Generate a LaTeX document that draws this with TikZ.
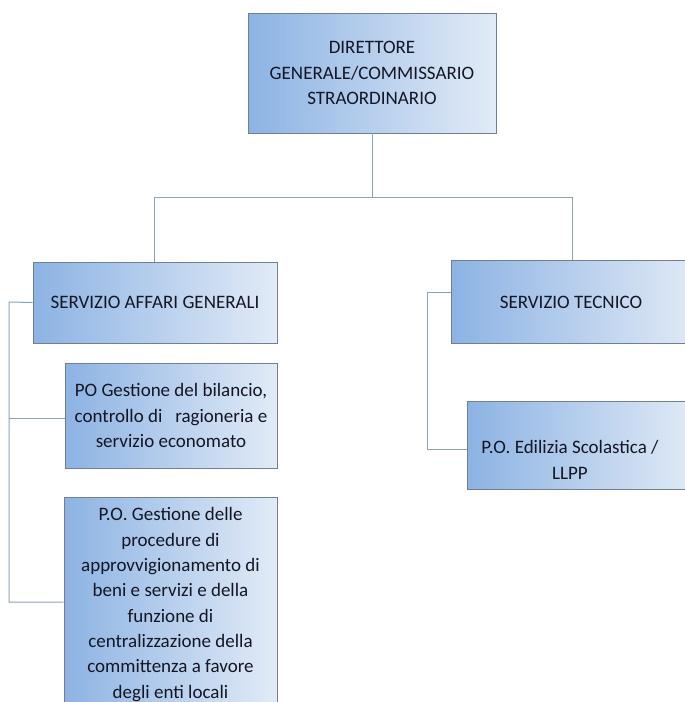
\documentclass[tikz,border=0pt]{standalone}
\usepackage{fontspec}
\setmainfont{Carlito}
\definecolor{gleft}{RGB}{140,179,227}
\definecolor{gright}{RGB}{226,235,247}
\definecolor{bordc}{RGB}{112,128,146}
\definecolor{linec}{RGB}{140,162,184}
\definecolor{txtc}{RGB}{20,22,36}
\tikzset{
  orgbox/.style={draw=bordc, line width=0.9pt, left color=gleft, right color=gright,
    inner sep=0pt, text=txtc, align=center,
    font=\fontsize{19}{25.3}\selectfont},
  orgtext/.style={inner sep=0pt, text=txtc, align=center,
    font=\fontsize{19}{25.3}\selectfont},
  conn/.style={draw=linec, line width=1pt}
}
\begin{document}
\begin{tikzpicture}[x=1pt,y=-1pt]
\useasboundingbox (0,0) rectangle (685,702);
\clip (0,0) rectangle (685,702);
% boxes
\node[orgbox, minimum width=248pt, minimum height=120pt] (dg) at (372,73)
  {DIRETTORE\\GENERALE/COMMISSARIO\\STRAORDINARIO};
\node[orgbox, minimum width=244pt, minimum height=81pt] (sag) at (155,302.5)
  {SERVIZIO AFFARI GENERALI};
\node[orgbox, minimum width=250pt, minimum height=83pt] (st) at (576,301.5) {};
\node[orgtext] (stt) at (571,302) {SERVIZIO TECNICO};
\node[orgbox, minimum width=212pt, minimum height=105pt] (po1) at (171,415.5)
  {PO Gestione del bilancio,\\controllo di \ \ ragioneria e\\servizio economato};
\node[orgbox, minimum width=213pt, minimum height=215pt] (po2) at (170.5,604.5)
  {P.O. Gestione delle\\procedure di\\approvvigionamento di\\beni e servizi e della\\funzione di\\centralizzazione della\\committenza a favore\\degli enti locali};
\node[orgbox, minimum width=230pt, minimum height=88pt] (ed) at (582,445) {};
\node[orgtext] (edt) at (570,460) {P.O. Edilizia Scolastica /\\LLPP};
% connectors
\coordinate (hb) at (372,197);
\draw[conn] (dg.south) -- (hb);
\draw[conn] (154,197) -- (572,197);
\draw[conn] (154,197) -- (154,262);
\draw[conn] (572,197) -- (572,260);
\coordinate (lt) at (9,302);
\coordinate (lb) at (9,602);
\draw[conn] (sag.west) -- (lt) -- (lb) -- (po2.west |- lb);
\draw[conn] (9,418) -- (po1.west |- 0,418);
\coordinate (rt) at (427,292);
\coordinate (rb) at (427,449);
\draw[conn] (st.west |- rt) -- (rt) -- (rb) -- (ed.west |- rb);
\end{tikzpicture}
\end{document}
